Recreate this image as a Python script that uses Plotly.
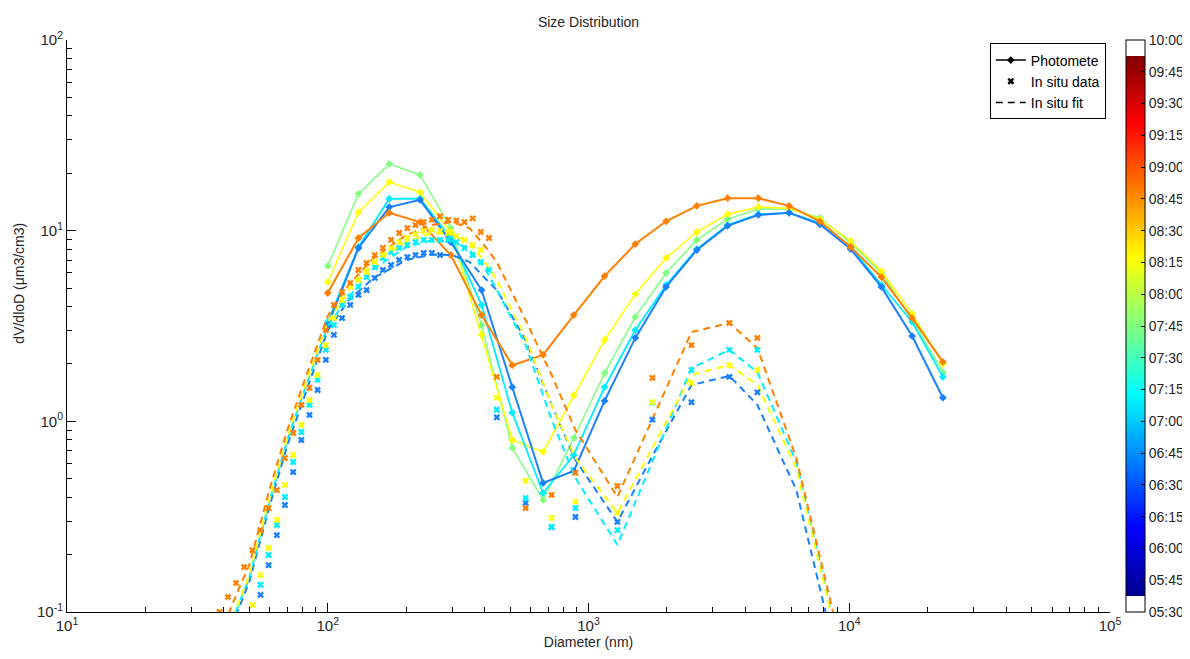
import plotly.graph_objects as go

# ---------------- data ----------------
# Photometer (sun photometer inversion), diameters in nm
photo_d = [100, 131.2, 172.2, 225.9, 296.4, 388.9, 510.2, 669.4, 878.3, 1152.5, 1512.1,
           1984.0, 2603.1, 3415.5, 4481.4, 5879.9, 7714.9, 10122.5, 13281.5, 17426.3, 22864.6]
photo_green = [6.53, 15.6, 22.4, 19.6, 10.3, 3.20, 0.725, 0.387, 0.818, 1.79, 3.53,
               6.00, 8.94, 11.5, 13.0, 13.0, 11.7, 8.62, 6.00, 3.40, 1.81]
photo_yellow = [5.38, 12.5, 18.0, 15.9, 9.84, 2.84, 0.798, 0.691, 1.37, 2.67, 4.65,
                7.19, 9.84, 12.2, 13.3, 13.1, 11.5, 8.83, 6.14, 3.66, 2.00]
photo_cyan = [3.32, 8.21, 14.7, 14.7, 9.15, 4.08, 1.11, 0.421, 0.666, 1.51, 3.01,
              5.19, 8.01, 10.7, 12.2, 12.4, 11.0, 8.21, 5.19, 3.32, 1.71]
photo_blue = [3.20, 8.11, 13.3, 14.5, 8.72, 4.88, 1.51, 0.475, 0.549, 1.28, 2.74,
              5.07, 7.92, 10.6, 12.1, 12.4, 10.8, 8.01, 5.07, 2.80, 1.33]
photo_orange = [4.71, 9.15, 12.4, 11.1, 7.45, 3.61, 1.97, 2.23, 3.61, 5.78, 8.51,
                11.2, 13.5, 14.8, 14.8, 13.5, 11.2, 8.21, 5.71, 3.48, 2.05]

# In situ data: mobility sizer channels + optical counter channels (nm)
smps_d = [38.5, 41.4, 44.5, 47.8, 51.4, 55.2, 59.3, 63.8, 68.5, 73.7, 79.2, 85.1,
          91.4, 98.3, 105.6, 113.5, 122.0, 131.1, 140.9, 151.4, 162.7, 174.9, 187.9,
          202.0, 217.1, 233.3, 250.7, 269.4, 289.5, 311.2, 334.4, 359.4, 386.2, 415.1]
opc_d = [445, 574, 722, 891, 1291, 1758, 2483, 3470, 4443]

smps_orange = [0.100, 0.120, 0.142, 0.172, 0.211, 0.269, 0.351, 0.436, 0.642, 0.869, 1.22, 1.50,
               2.10, 3.01, 4.08, 4.77, 5.32, 6.22, 6.77, 7.45, 8.11, 8.94, 9.72,
               10.3, 10.7, 11.1, 11.4, 11.9, 11.4, 11.3, 11.1, 11.6, 9.84, 9.15]
smps_yellow = [None, None, None, 0.0855, 0.109, 0.156, 0.217, 0.304, 0.464, 0.666, 0.957, 1.29,
               1.75, 2.51, 3.48, 4.33, 5.07, 5.51, 6.07, 6.85, 7.45, 8.11, 8.72,
               9.15, 9.60, 9.96, 10.1, 9.96, 9.72, 9.38, 8.94, 8.41, 7.92, None]
smps_cyan = [None, None, None, None, 0.093, 0.139, 0.199, 0.286, 0.401, 0.612, 0.879, 1.22,
             1.65, 2.37, 3.20, 4.08, 4.49, 5.07, 5.71, 6.45, 7.19, 7.73, 8.11,
             8.41, 8.72, 8.94, 8.94, 8.94, 8.94, 8.72, 8.11, 7.45, 6.85, 6.22]
smps_blue = [None, None, None, None, 0.0855, 0.123, 0.176, 0.253, 0.364, 0.542, 0.798, 1.08,
             1.46, 2.10, 2.84, 3.48, 4.08, 4.60, 4.88, 5.65, 6.22, 6.61, 7.02,
             7.27, 7.45, 7.64, 7.64, 7.45, None, None, None, None, None, None]

opc_orange = [1.71, 0.351, 0.411, 0.536, 0.458, 1.69, 2.51, 3.28, 2.74]
opc_yellow = [1.33, 0.487, 0.311, 0.378, 0.331, 1.26, 1.59, 1.97, 1.86]
opc_cyan = [1.15, 0.396, 0.279, 0.351, 0.269, 1.25, 1.86, 2.37, 2.37]
opc_blue = [1.05, 0.373, 0.279, 0.315, 0.297, 1.02, 1.26, 1.71, 1.42]

# In situ lognormal fits
fit_d = [40, 45, 50, 60, 70, 80, 100, 120, 150, 200, 250, 300, 350, 400, 445, 574, 722, 891,
         1291, 1758, 2483, 3470, 4443, 6266, 8610, 10000]
fit_orange = [0.0855, 0.127, 0.176, 0.447, 0.901, 1.53, 3.57, 5.19, 7.19, 9.49, 10.7, 11.1, 10.3,
              8.31, 6.85, 3.40, 1.75, 0.901, 0.401, 1.02, 2.94, 3.28, 2.42, 0.642, 0.100, 0.044]
fit_yellow = [0.0713, 0.109, 0.156, 0.401, 0.828, 1.41, 3.32, 4.88, 6.85, 8.72, 9.72, 9.60, 8.62,
              6.85, 5.51, 2.74, 1.22, 0.642, 0.331, 0.725, 1.75, 1.97, 1.55, 0.569, 0.0964, 0.039]
fit_cyan = [0.0671, 0.105, 0.151, 0.387, 0.798, 1.36, 3.16, 4.49, 6.30, 8.20, 8.90, 8.85, 7.92,
            6.37, 4.88, 2.51, 1.02, 0.504, 0.225, 0.612, 1.90, 2.37, 1.81, 0.612, 0.0964, 0.039]
fit_blue = [0.0632, 0.100, 0.144, 0.364, 0.751, 1.26, 3.01, 4.30, 5.65, 7.00, 7.50, 7.45, 6.85,
            5.65, 4.88, 2.67, 1.22, 0.627, 0.297, 0.658, 1.55, 1.73, 1.22, 0.436, 0.0713, 0.0271]

# colour bar: minutes after 05:30
cb_ticks = [0, 15, 30, 45, 60, 75, 90, 105, 120, 135, 150, 165, 180, 195, 210, 225, 240, 255, 270]
cb_labels = ["05:30", "05:45", "06:00", "06:15", "06:30", "06:45", "07:00", "07:15", "07:30",
             "07:45", "08:00", "08:15", "08:30", "08:45", "09:00", "09:15", "09:30", "09:45", "10:00"]

# ---------------- styling ----------------
C_GREEN = "#80ff80"
C_YELLOW = "#ffff00"
C_CYAN = "#00eeff"
C_BLUE = "#1a80ff"
C_ORANGE = "#ff8000"
FONT = "Liberation Sans, Arial, sans-serif"

fig = go.Figure()

photo_series = [(photo_green, C_GREEN, 1.5), (photo_yellow, C_YELLOW, 1.5),
                (photo_cyan, C_CYAN, 1.8), (photo_blue, C_BLUE, 2.0),
                (photo_orange, C_ORANGE, 2.0)]
for vals, col, lw in photo_series:
    fig.add_trace(go.Scatter(x=photo_d, y=vals, mode="lines+markers",
                             line=dict(color=col, width=lw),
                             marker=dict(symbol="diamond", size=6, color=col),
                             showlegend=False, hoverinfo="skip"))

fit_series = [(fit_blue, C_BLUE), (fit_cyan, C_CYAN), (fit_yellow, C_YELLOW), (fit_orange, C_ORANGE)]
for vals, col in fit_series:
    fig.add_trace(go.Scatter(x=fit_d, y=vals, mode="lines",
                             line=dict(color=col, width=2, dash="7px,5px"),
                             showlegend=False, hoverinfo="skip"))

data_series = [(smps_blue, opc_blue, C_BLUE), (smps_cyan, opc_cyan, C_CYAN),
               (smps_yellow, opc_yellow, C_YELLOW), (smps_orange, opc_orange, C_ORANGE)]
for sv, ov, col in data_series:
    fig.add_trace(go.Scatter(x=smps_d + opc_d, y=sv + ov, mode="markers",
                             marker=dict(symbol="x", size=6, color=col, line=dict(width=0)),
                             showlegend=False, hoverinfo="skip"))

# legend entries
fig.add_trace(go.Scatter(x=[None], y=[None], mode="lines+markers", name="Photomete",
                         line=dict(color="black", width=1.5),
                         marker=dict(symbol="diamond", size=6, color="black")))
fig.add_trace(go.Scatter(x=[None], y=[None], mode="markers", name="In situ data",
                         marker=dict(symbol="x", size=6, color="black")))
fig.add_trace(go.Scatter(x=[None], y=[None], mode="lines", name="In situ fit",
                         line=dict(color="black", width=1.5, dash="7px,5px")))

# colour bar (jet with white end bins)
a, b = 1 / 36, 35 / 36
jet = [(0.0, "#00008f"), (0.125, "#0000ff"), (0.375, "#00ffff"), (0.625, "#ffff00"),
       (0.875, "#ff0000"), (1.0, "#800000")]
cscale = [[0.0, "#ffffff"], [a, "#ffffff"]]
for t, c in jet:
    cscale.append([a + t * (b - a), c])
cscale += [[b, "#ffffff"], [1.0, "#ffffff"]]
cscale[2][0] = a + 1e-6
cscale[-2][0] = b + 1e-6

fig.add_trace(go.Scatter(x=[1000], y=[1e-4], mode="markers", showlegend=False, hoverinfo="skip",
                         marker=dict(color=[0], cmin=0, cmax=270, colorscale=cscale, size=1,
                                     showscale=True,
                                     colorbar=dict(x=1.0153, xanchor="left", xpad=0,
                                                   y=0.5, yanchor="middle", ypad=0,
                                                   len=572, lenmode="pixels",
                                                   thickness=19, thicknessmode="pixels",
                                                   outlinewidth=1, outlinecolor="black",
                                                   tickmode="array", tickvals=cb_ticks,
                                                   ticktext=cb_labels, ticks="inside",
                                                   ticklen=4, tickcolor="black",
                                                   tickfont=dict(family=FONT, size=14, color="#262626")))))

xminor = [m * 10 ** e for e in range(1, 5) for m in range(2, 10)]
yminor = [m * 10.0 ** e for e in range(-1, 2) for m in range(2, 10)]

# page body adds an 8 px offset, so the figure is 8 px smaller and margins shifted
fig.update_layout(
    width=1182, height=651,
    margin=dict(l=59, r=80, t=32, b=47, autoexpand=False),
    paper_bgcolor="white", plot_bgcolor="white",
    font=dict(family=FONT, size=14, color="#262626"),
    title=dict(text="Size Distribution", x=0.5, xref="paper", y=0.9785, yanchor="middle",
               font=dict(family=FONT, size=14, color="#262626")),
    showlegend=True,
    legend=dict(x=0.996, xanchor="right", y=0.994, yanchor="top",
                bgcolor="white", bordercolor="black", borderwidth=1,
                font=dict(family=FONT, size=14, color="black"),
                tracegroupgap=0, itemwidth=30),
    xaxis=dict(type="log", range=[1, 5], showline=True, linecolor="black", linewidth=1,
               mirror=False, showgrid=False, zeroline=False,
               ticks="inside", ticklen=9, tickcolor="black", tickwidth=1,
               tickmode="array", tickvals=[10, 100, 1000, 10000, 100000],
               ticktext=["10<sup>1</sup>", "10<sup>2</sup>", "10<sup>3</sup>",
                         "10<sup>4</sup>", "10<sup>5</sup>"],
               tickfont=dict(family=FONT, size=15, color="#262626"),
               minor=dict(ticks="inside", ticklen=5, tickcolor="black", tickmode="array",
                          tickvals=xminor, showgrid=False),
               title=dict(text="Diameter (nm)", standoff=1,
                          font=dict(family=FONT, size=14, color="#262626"))),
    yaxis=dict(type="log", range=[-1, 2], showline=True, linecolor="black", linewidth=1,
               mirror=False, showgrid=False, zeroline=False,
               ticks="inside", ticklen=9, tickcolor="black", tickwidth=1,
               tickmode="array", tickvals=[0.1, 1, 10, 100],
               ticktext=["10<sup>-1</sup>", "10<sup>0</sup>", "10<sup>1</sup>", "10<sup>2</sup>"],
               tickfont=dict(family=FONT, size=15, color="#262626"),
               minor=dict(ticks="inside", ticklen=5, tickcolor="black", tickmode="array",
                          tickvals=yminor, showgrid=False)),
    annotations=[dict(text="dV/dloD (μm3/cm3)", textangle=-90, xref="paper", yref="paper",
                      x=-0.0455, y=0.575, xanchor="center", yanchor="middle", showarrow=False,
                      font=dict(family=FONT, size=14, color="#262626"))],
)

fig.write_html("out.html")
